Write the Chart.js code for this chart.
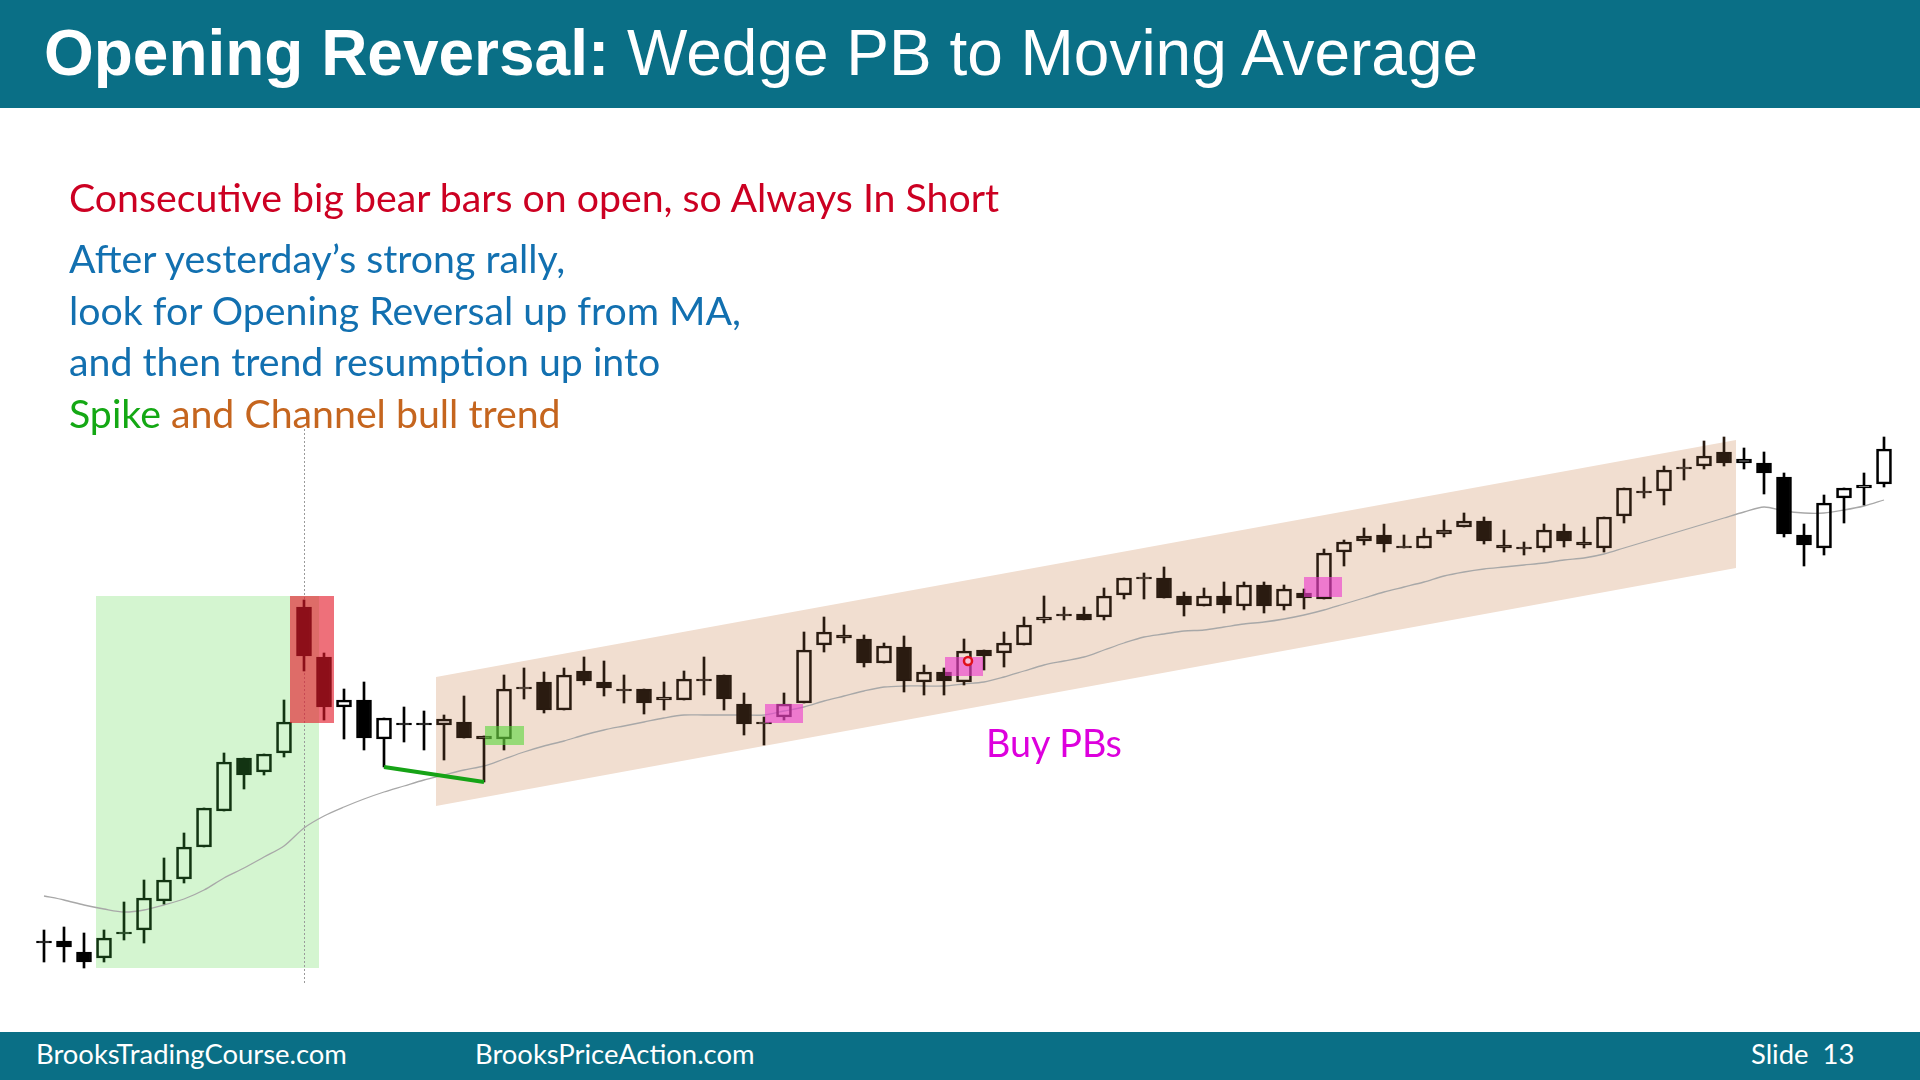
<!DOCTYPE html>
<html>
<head>
<meta charset="utf-8">
<script src="https://cdn.jsdelivr.net/npm/chart.js@4.4.1/dist/chart.umd.min.js"></script>
<style>
  html, body { margin: 0; padding: 0; background: #fff; }
  #page { position: relative; width: 1920px; height: 1080px; overflow: hidden; background: #fff; }
  #chartBox { position: absolute; left: 0; top: 0; width: 1920px; height: 1080px; }
  .band { position: absolute; left: 0; width: 1920px; background: #0A6F86; }
  .t { position: absolute; white-space: nowrap; line-height: 1; transform: translateY(-50%); }
  .note { font-family: Lato, "Open Sans", sans-serif; font-size: 36px; }
  .foot { font-family: Lato, "Open Sans", sans-serif; font-size: 24px; color: #fff; }
</style>
</head>
<body>
<div id="page">
  <div id="chartBox"><canvas id="chart" width="1920" height="1080"></canvas></div>

  <div class="band" style="top:0;height:108px;"></div>
  <div id="title" class="t" style="left:44px;top:54px;font-family:'Liberation Sans',Arial,sans-serif;font-size:64px;color:#fff;"><b>Opening Reversal:</b> Wedge PB to Moving Average</div>

  <div id="line1" class="t note" style="left:69px;top:197px;color:#CC0022;">Consecutive big bear bars on open, so Always In Short</div>
  <div class="t note" style="left:69px;top:258px;color:#1270B0;">After yesterday’s strong rally,</div>
  <div class="t note" style="left:69px;top:310px;color:#1270B0;">look for Opening Reversal up from MA,</div>
  <div class="t note" style="left:69px;top:361px;color:#1270B0;">and then trend resumption up into</div>
  <div class="t note" style="left:69px;top:413px;"><span style="color:#14A814;">Spike</span> <span style="color:#C5651E;">and Channel bull trend</span></div>
  <div id="buy" class="t note" style="left:986px;top:743px;color:#DD00DD;">Buy PBs</div>

  <div class="band" style="top:1032px;height:48px;"></div>
  <div id="foot1" class="t foot" style="left:36px;top:1054px;">BrooksTradingCourse.com</div>
  <div class="t foot" style="left:475px;top:1054px;">BrooksPriceAction.com</div>
  <div class="t foot" style="left:1751px;top:1054px;">Slide&nbsp;&nbsp;13</div>
</div>

<script>
// 5-minute bars, price in ticks
const opens = [59,59,48,42,68,70,99,121,153,189,
  242,228,247,393,343,293,300,261,277,277,
  275,278,264,261,311,318,290,329,318,311,
  311,300,300,321,325,296,276,283,297,355,
  365,361,337,353,318,328,318,350,347,355,
  380,386,386,383,405,421,422,404,394,404,
  394,415,394,407,401,448,459,465,454,452,
  466,473,479,455,453,452,469,458,452,484,
  509,509,531,534,548,537,537,523,465,452,
  502,512,516];
const highs = [70,73,67,70,98,120,142,167,192,247,
  242,246,300,400,347,311,318,282,293,289,
  285,304,264,325,332,328,332,343,339,325,
  311,318,329,343,325,307,283,307,368,383,
  375,365,357,364,335,332,361,350,368,383,
  404,393,393,412,422,427,433,408,412,418,
  418,418,415,411,451,460,472,476,465,472,
  480,487,483,470,458,476,476,473,483,512,
  523,534,541,559,563,552,548,527,476,505,
  512,527,563];
const lows = [38,38,32,38,60,57,96,117,153,189,
  211,225,243,329,280,261,250,233,258,250,
  240,262,218,250,301,287,290,315,304,297,
  286,290,300,305,290,265,255,280,297,348,
  357,333,337,308,305,305,315,330,333,355,
  377,380,380,380,401,401,402,384,394,387,
  390,387,390,391,401,434,455,448,452,452,
  463,473,456,448,445,448,453,452,448,477,
  502,495,520,531,534,531,506,463,434,445,
  477,495,513];
const closes = [57,53,38,62,66,102,120,153,192,238,
  225,246,278,344,293,300,262,282,275,275,
  281,262,261,311,313,290,325,319,312,309,
  297,303,321,319,301,276,278,296,350,368,
  362,337,354,319,328,319,349,344,357,375,
  383,384,380,404,422,423,402,395,404,395,
  415,394,411,402,447,458,464,456,452,464,
  470,479,459,452,451,470,459,455,483,512,
  507,530,533,544,537,541,527,466,455,497,
  512,515,551];
// moving average under the bars
const movingAvg = [104,100,95,91,88,90,95,101,110,122,
  132,143,154,172,184,193,201,208,214,220,
  225,230,234,241,248,254,259,265,270,274,
  278,282,285,285,285,285,285,289,293,299,
  304,309,313,314,314,314,316,318,323,329,
  335,339,343,350,357,363,366,369,370,373,
  376,378,381,385,390,396,402,408,413,418,
  424,428,431,433,435,437,440,442,446,452,
  458,464,470,476,482,488,493,489,487,487,
  490,494,500];

// annotations, in bar index / price units
const spikeZone = [2.6, 13.75, 32, 404];
const bearZone = [12.3, 14.5, 277, 404];
const channelTop = [[19.6, 323], [84.6, 560]];
const channelBottom = [[19.6, 194], [84.6, 432]];
const pullbackZones = [[36.05, 37.95, 277, 296], [45.05, 46.95, 324, 343], [63.0, 64.9, 403, 423]];
const wedgeZone = [22.05, 24.0, 255, 274];
const wedgeBars = [17, 22];
const markerBar = 13, markerTop = 571, markerBottom = 17;
const signalDot = [46.2, 339];

const spikeBars = [3, 12];
const channelBars = [20, 84];

function barColor(i) {
  if (i >= channelBars[0] && i <= channelBars[1]) return '#2A1B10';
  if (i >= spikeBars[0] && i <= spikeBars[1]) return '#123412';
  return '#000000';
}

const idx = opens.map((_, i) => i);
const colors = idx.map(barColor);
const upperWicks = idx.map(i => ({x: i, y: [Math.max(opens[i], closes[i]), highs[i]]}));
const lowerWicks = idx.map(i => ({x: i, y: [lows[i], Math.min(opens[i], closes[i])]}));
const bodies = idx.map(i => ({x: i, y: [opens[i], closes[i]]}));
const bodyFill = idx.map(i => closes[i] < opens[i] ? colors[i] : 'rgba(0,0,0,0)');

const BODY_INDEX = 3;

const zones = {
  id: 'zones',
  beforeDatasetsDraw(chart) {
    const ctx = chart.ctx, xs = chart.scales.x, ys = chart.scales.y;
    const X = v => xs.getPixelForValue(v), Y = v => ys.getPixelForValue(v);
    ctx.save();
    ctx.fillStyle = '#D4F5D0';
    ctx.fillRect(X(spikeZone[0]), Y(spikeZone[3]), X(spikeZone[1]) - X(spikeZone[0]), Y(spikeZone[2]) - Y(spikeZone[3]));
    ctx.fillStyle = '#F1DED0';
    ctx.beginPath();
    ctx.moveTo(X(channelTop[0][0]), Y(channelTop[0][1]));
    ctx.lineTo(X(channelTop[1][0]), Y(channelTop[1][1]));
    ctx.lineTo(X(channelBottom[1][0]), Y(channelBottom[1][1]));
    ctx.lineTo(X(channelBottom[0][0]), Y(channelBottom[0][1]));
    ctx.closePath();
    ctx.fill();
    ctx.strokeStyle = '#9a9a9a';
    ctx.lineWidth = 1;
    ctx.setLineDash([2, 2]);
    ctx.beginPath();
    ctx.moveTo(Math.round(X(markerBar)) + 0.5, Y(markerTop));
    ctx.lineTo(Math.round(X(markerBar)) + 0.5, Y(markerBottom));
    ctx.stroke();
    ctx.restore();
  },
  afterDatasetDraw(chart, args) {
    if (args.index !== BODY_INDEX) return;
    const ctx = chart.ctx, xs = chart.scales.x, ys = chart.scales.y;
    const X = v => xs.getPixelForValue(v), Y = v => ys.getPixelForValue(v);
    const box = (z, c) => {
      ctx.fillStyle = c;
      ctx.fillRect(X(z[0]), Y(z[3]), X(z[1]) - X(z[0]), Y(z[2]) - Y(z[3]));
    };
    ctx.save();
    box(bearZone, 'rgba(228,25,40,0.62)');
    pullbackZones.forEach(z => box(z, 'rgba(235,60,205,0.62)'));
    box(wedgeZone, 'rgba(90,215,60,0.6)');
    ctx.restore();
  }
};

new Chart(document.getElementById('chart'), {
  type: 'bar',
  data: {
    datasets: [
      {
        type: 'line', label: 'wedge', order: 2,
        data: wedgeBars.map(i => ({x: i, y: lows[i]})),
        borderColor: '#16A316', borderWidth: 4, pointRadius: 0
      },
      {
        type: 'scatter', label: 'signal', order: 1,
        data: [{x: signalDot[0], y: signalDot[1]}],
        pointRadius: 4, borderWidth: 2.5, borderColor: '#E0101A', pointBackgroundColor: '#F6C0D8'
      },
      {
        type: 'line', label: 'MA', order: 7,
        data: idx.map(i => ({x: i, y: movingAvg[i]})),
        borderColor: '#A8A8A8', borderWidth: 1.3, pointRadius: 0, tension: 0.3
      },
      {
        label: 'bodies', order: 4, grouped: false,
        data: bodies, barThickness: 15,
        backgroundColor: bodyFill, borderColor: colors, borderWidth: 2, borderSkipped: false
      },
      {
        label: 'upper wicks', order: 5, grouped: false,
        data: upperWicks, barThickness: 2, backgroundColor: colors, borderWidth: 0
      },
      {
        label: 'lower wicks', order: 5, grouped: false,
        data: lowerWicks, barThickness: 2, backgroundColor: colors, borderWidth: 0
      }
    ]
  },
  options: {
    responsive: false,
    animation: false,
    layout: { padding: 0, autoPadding: false },
    plugins: { legend: { display: false }, tooltip: { enabled: false } },
    scales: {
      x: { type: 'linear', min: -2.2, max: 93.8, offset: false, display: false },
      y: { min: -80, max: 1000, display: false }
    }
  },
  plugins: [zones]
});

function fitWidth(el, target) {
  const fs = parseFloat(getComputedStyle(el).fontSize);
  const w = el.getBoundingClientRect().width;
  const size = fs * target / w;
  el.style.fontSize = size + 'px';
  return size;
}

function fitAll() {
  fitWidth(document.getElementById('title'), 1434);
  const s = fitWidth(document.getElementById('line1'), 930);
  document.querySelectorAll('.note').forEach(el => { if (el.id !== 'buy') el.style.fontSize = s + 'px'; });
  fitWidth(document.getElementById('buy'), 136);
  const f = fitWidth(document.getElementById('foot1'), 311);
  document.querySelectorAll('.foot').forEach(el => el.style.fontSize = f + 'px');
}
fitAll();
if (document.fonts) document.fonts.ready.then(fitAll);
</script>
</body>
</html>
